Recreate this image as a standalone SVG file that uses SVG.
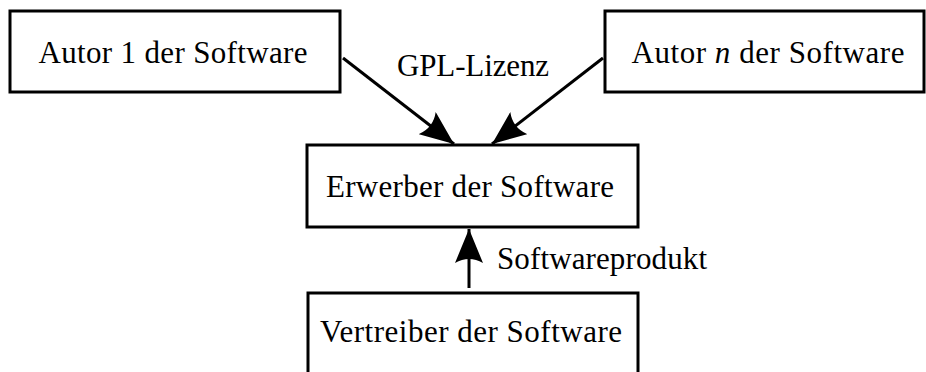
<svg xmlns="http://www.w3.org/2000/svg" width="926" height="372" viewBox="0 0 926 372">
<style>
.box{fill:#fff;stroke:#000;stroke-width:3}
.t{font-family:"Liberation Serif","DejaVu Serif",serif;font-size:31px;fill:#000}
.m{text-anchor:middle}
.c{stroke:#000;stroke-width:3;fill:none}
</style>
<defs>
<marker id="ah" viewBox="0 0 34 28" refX="34" refY="14" markerWidth="34" markerHeight="28" markerUnits="userSpaceOnUse" orient="auto">
<path d="M34,14 L0,0 Q8,14 0,28 Z" fill="#000"/>
</marker>
</defs>
<g id="autor1"><rect class="box" x="10" y="11" width="330" height="81"/><text class="t m" x="173" y="63" textLength="269" lengthAdjust="spacing">Autor 1 der Software</text></g>
<g id="autorn"><rect class="box" x="605" y="11" width="319" height="81"/><text class="t m" x="768" y="63" textLength="273" lengthAdjust="spacing">Autor <tspan font-style="italic">n</tspan> der Software</text></g>
<g id="erwerber"><rect class="box" x="307" y="145" width="331" height="82"/><text class="t m" x="470" y="197" textLength="288" lengthAdjust="spacing">Erwerber der Software</text></g>
<g id="vertreiber"><rect class="box" x="308" y="293" width="330" height="100"/><text class="t m" x="471" y="342" textLength="302" lengthAdjust="spacing">Vertreiber der Software</text></g>
<g id="connectors">
<line class="c" x1="343" y1="58" x2="454" y2="144" marker-end="url(#ah)"/>
<line class="c" x1="603" y1="58" x2="492" y2="144" marker-end="url(#ah)"/>
<line class="c" x1="469" y1="288" x2="469" y2="229" marker-end="url(#ah)"/>
<text class="t m" x="473" y="76" textLength="152" lengthAdjust="spacing">GPL-Lizenz</text>
<text class="t" x="497" y="269" textLength="210" lengthAdjust="spacing">Softwareprodukt</text>
</g>
</svg>
